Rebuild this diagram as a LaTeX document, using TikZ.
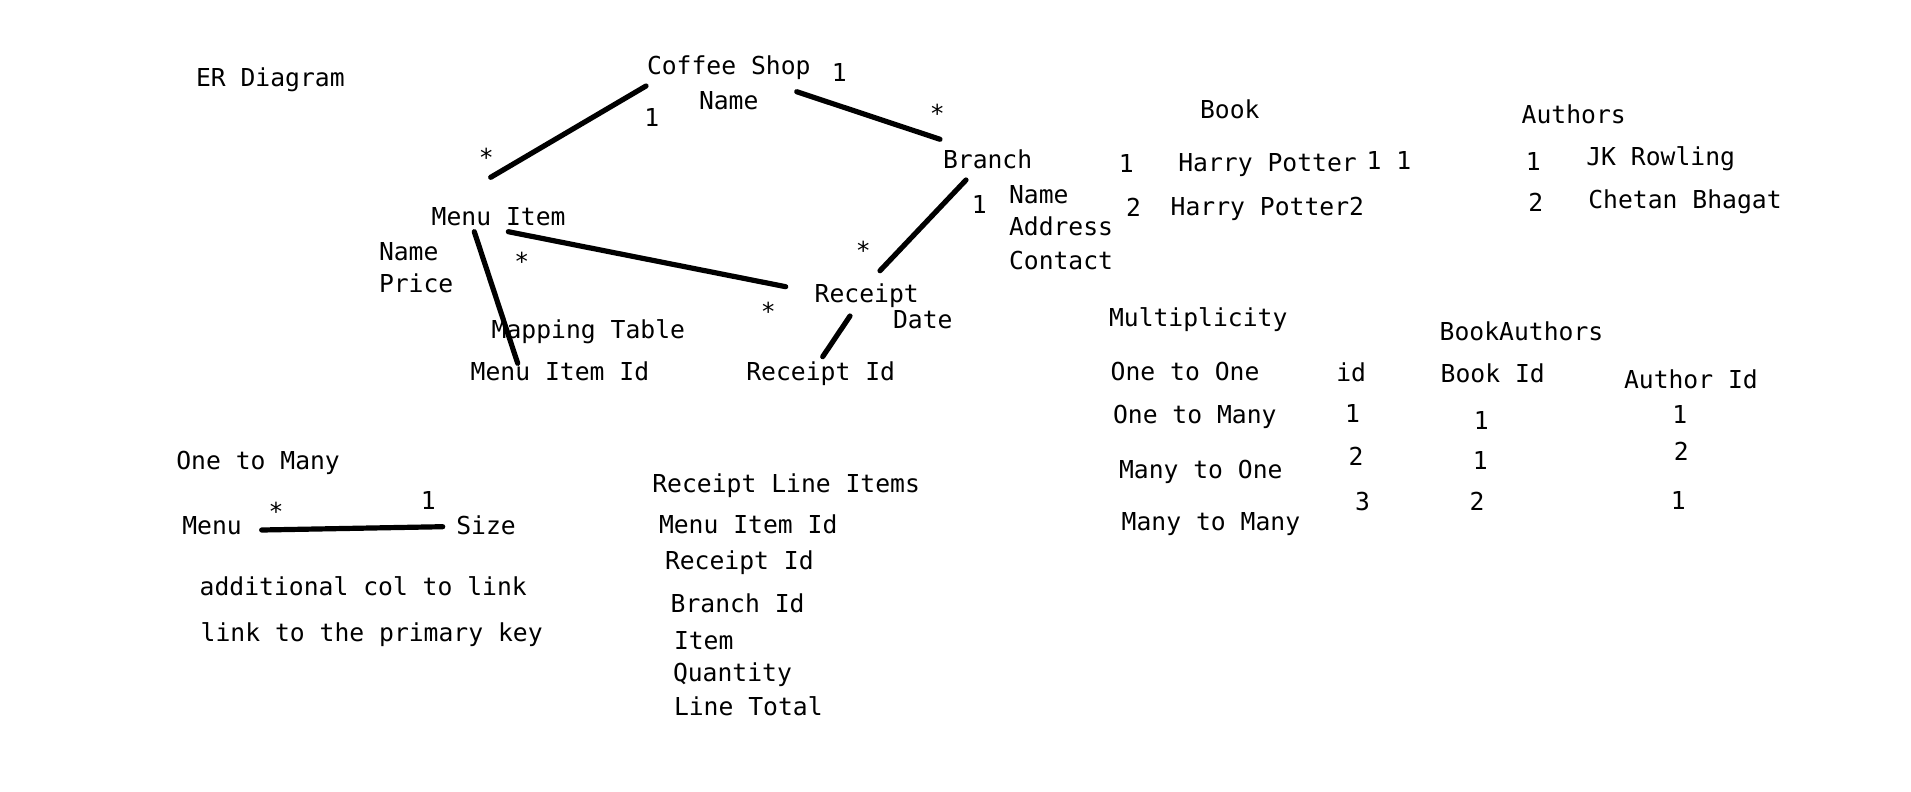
\documentclass[tikz,border=0pt]{standalone}
\usepackage{fontspec}
\newfontfamily\notefont{DejaVu Sans Mono}
\tikzset{%
    txt/.style={inner sep=0pt,outer sep=0pt,anchor=base west,font=\notefont\fontsize{24.7}{30}\selectfont},
    mult/.style={txt,anchor=base},
    link/.style={line width=5.2pt,line cap=round},
}

\begin{document}
\begin{tikzpicture}[x=1pt,y=-1pt]
	
	\useasboundingbox[fill=white] (0,0) rectangle (1911,792);
	
	%ER diagram
	\node[txt] (title) at (196,86.7) {ER Diagram};
	\node[txt] (shop) at (647,74.3) {Coffee Shop};
	\node[txt] (shopname) at (699,110) {Name};
	\node[txt] (branch) at (943,168.3) {Branch};
	\node[txt] (brname) at (1009,203.3) {Name};
	\node[txt] (braddress) at (1009,235.7) {Address};
	\node[txt] (brcontact) at (1009,269.3) {Contact};
	\node[txt] (menuitem) at (431.7,225) {Menu Item};
	\node[txt] (miname) at (379,260) {Name};
	\node[txt] (miprice) at (379,292.3) {Price};
	\node[txt] (receipt) at (814.7,302.7) {Receipt};
	\node[txt] (rdate) at (893,328.3) {Date};
	\node[txt] (mapping) at (491.7,338.3) {Mapping Table};
	\node[txt] (mapmenu) at (470.7,380) {Menu Item Id};
	\node[txt] (mapreceipt) at (746.3,380.7) {Receipt Id};
	
	%multiplicities
	\node[mult] (m1) at (839.2,81.7) {1};
	\node[mult] (m2) at (937.3,122.5) {*};
	\node[mult] (m3) at (651.8,126) {1};
	\node[mult] (m4) at (486.3,166.5) {*};
	\node[mult] (m5) at (979.2,213.3) {1};
	\node[mult] (m6) at (863.3,259.2) {*};
	\node[mult] (m7) at (521.7,270.9) {*};
	\node[mult] (m8) at (768.3,320.9) {*};
	
	%end points
	\coordinate (shop-l) at (646,86);
	\coordinate (shop-r) at (796.7,91.7);
	\coordinate (branch-t) at (940,139.3);
	\coordinate (branch-b) at (966,180);
	\coordinate (menuitem-t) at (490.7,177.3);
	\coordinate (menuitem-b) at (474.3,231.7);
	\coordinate (menuitem-r) at (508.3,231.7);
	\coordinate (receipt-l) at (785.7,286.7);
	\coordinate (receipt-t) at (880,270.7);
	\coordinate (receipt-b) at (850,316);
	\coordinate (mapmenu-t) at (517.7,363.3);
	\coordinate (mapreceipt-t) at (822.7,356.7);
	
	\draw[link] (shop-l) -- (menuitem-t);
	\draw[link] (shop-r) -- (branch-t);
	\draw[link] (branch-b) -- (receipt-t);
	\draw[link] (menuitem-r) -- (receipt-l);
	\draw[link] (menuitem-b) -- (mapmenu-t);
	\draw[link] (receipt-b) -- (mapreceipt-t);
	
	%one to many
	\node[txt] (otm) at (176.3,469) {One to Many};
	\node[txt] (menu) at (182.3,534.3) {Menu};
	\node[txt] (size) at (456.3,534.3) {Size};
	\node[mult] (otmstar) at (276,520.2) {*};
	\node[mult] (otmone) at (428.3,509) {1};
	\coordinate (menu-r) at (261.7,530);
	\coordinate (size-l) at (442.7,526.7);
	\draw[link] (menu-r) -- (size-l);
	\node[txt] (note1) at (199.7,595) {additional col to link};
	\node[txt] (note2) at (200.7,641.7) {link to the primary key};
	
	%receipt line items
	\node[txt] (rli) at (652.3,492.7) {Receipt Line Items};
	\node[txt] (rli1) at (659,533.3) {Menu Item Id};
	\node[txt] (rli2) at (665,569.3) {Receipt Id};
	\node[txt] (rli3) at (670.7,612.7) {Branch Id};
	\node[txt] (rli4) at (674,649.3) {Item};
	\node[txt] (rli5) at (673,681.7) {Quantity};
	\node[txt] (rli6) at (674,715) {Line Total};
	
	%book
	\node[txt] (book) at (1200,118.3) {Book};
	\node[mult] (bk1) at (1126.2,172) {1};
	\node[txt] (hp1) at (1178.3,171.7) {Harry Potter};
	\node[mult] (bk11) at (1388.8,169) {1 1};
	\node[mult] (bk2) at (1133.5,216) {2};
	\node[txt] (hp2) at (1170.7,215.7) {Harry Potter2};
	
	%authors
	\node[txt] (authors) at (1521.7,123.3) {Authors};
	\node[mult] (au1) at (1533.3,170) {1};
	\node[txt] (jk) at (1586.3,165) {JK Rowling};
	\node[mult] (au2) at (1535.7,211) {2};
	\node[txt] (cb) at (1588.3,208.3) {Chetan Bhagat};
	
	%multiplicity
	\node[txt] (multi) at (1109,326) {Multiplicity};
	\node[txt] (oto) at (1110.7,380) {One to One};
	\node[txt] (otmb) at (1113,423.3) {One to Many};
	\node[txt] (mto) at (1119,478.3) {Many to One};
	\node[txt] (mtm) at (1121.7,530.7) {Many to Many};
	
	%book authors
	\node[txt] (idh) at (1336.3,381.7) {id};
	\node[mult] (id1) at (1352.5,422.3) {1};
	\node[mult] (id2) at (1356,465.7) {2};
	\node[mult] (id3) at (1362.5,510.7) {3};
	\node[txt] (ba) at (1439.7,340.7) {BookAuthors};
	\node[txt] (bid) at (1440.7,382.3) {Book Id};
	\node[mult] (bid1) at (1481.2,429.3) {1};
	\node[mult] (bid2) at (1480.3,469) {1};
	\node[mult] (bid3) at (1477,510) {2};
	\node[txt] (aid) at (1624,388.3) {Author Id};
	\node[mult] (aid1) at (1679.7,423.3) {1};
	\node[mult] (aid2) at (1681.3,460.7) {2};
	\node[mult] (aid3) at (1678.2,509.3) {1};
	
\end{tikzpicture}
\end{document}
